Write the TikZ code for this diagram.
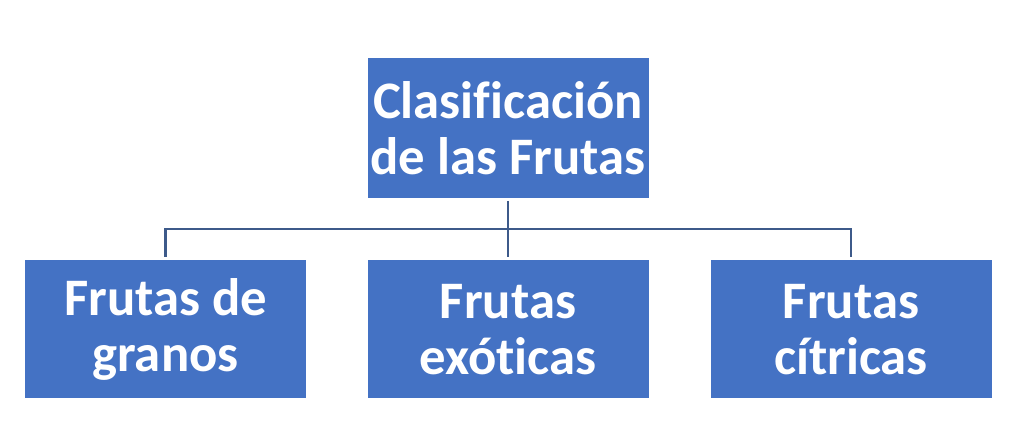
\documentclass[tikz,border=0pt]{standalone}
\usepackage{fontspec}
\setmainfont[Ligatures=NoCommon]{Carlito}
\usepackage{tikz}
\usepackage{xcolor}
\usetikzlibrary{positioning,calc}
\definecolor{fruitblue}{HTML}{4472C4}
\definecolor{linkblue}{HTML}{3D5A8A}

\begin{document}
\begin{tikzpicture}[
    root/.style={rectangle, draw=none, fill=fruitblue, text=white, align=center, inner sep=0pt, outer sep=0pt, minimum width=5.62cm, minimum height=2.8cm, font=\fontsize{30}{32}\selectfont\bfseries},
    branch/.style={root, minimum height=2.76cm},
    link/.style={draw=linkblue, line width=1.4pt}
  ]
    \useasboundingbox (0,0) rectangle (20.48,8.58);
    \node[root] (clasif) at (10.16,6.02) {Clasificación\\de las Frutas};
    \node[branch] (granos) at (3.31,1.99) {Frutas de\\granos};
    \node[branch] (exoticas) at (10.16,1.99) {Frutas\\exóticas};
    \node[branch] (citricas) at (17.02,1.99) {Frutas\\cítricas};

    \coordinate (bus) at (10.16,4.0);
    \draw[link] ([yshift=-0.06cm]clasif.south) -- (bus);
    \draw[link] (bus) -| ([yshift=0.06cm]granos.north);
    \draw[link] (bus) -| ([yshift=0.06cm]citricas.north);
    \draw[link] (bus) -- ([yshift=0.06cm]exoticas.north);
  \end{tikzpicture}
\end{document}
